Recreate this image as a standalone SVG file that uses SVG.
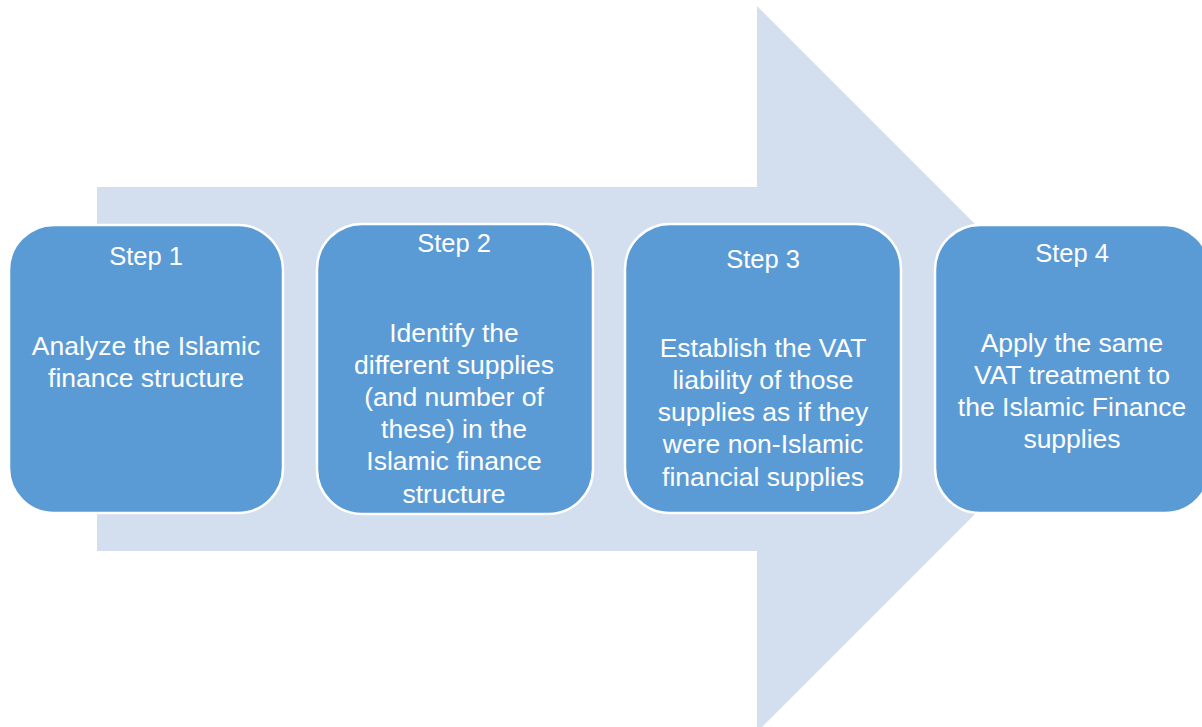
<svg xmlns="http://www.w3.org/2000/svg" width="1202" height="727" viewBox="0 0 1202 727">
<style>
.box{fill:#5B9BD5;stroke:#FFFFFF;stroke-width:2.5}
.t{font-family:"Liberation Sans",Arial,sans-serif;font-size:26.5px;fill:#FFFFFF;text-anchor:middle}
.h{font-size:25.5px}
</style>
<rect width="1202" height="727" fill="#FFFFFF"/>
<g id="arrow">
<path d="M97,187 L757,187 L757,6 L1120,369 L757,732 L757,551 L97,551 Z" fill="#D3DEEF"/>
</g>
<g id="connectors"></g>
<g id="step1">
<rect class="box" x="9" y="225" width="274" height="288" rx="45" ry="45"/>
<text class="t h" x="146" y="265">Step 1</text>
<text class="t" x="146" y="355">Analyze the Islamic</text>
<text class="t" x="146" y="387">finance structure</text>
</g>
<g id="step2">
<rect class="box" x="317" y="224" width="276" height="290" rx="45" ry="45"/>
<text class="t h" x="454" y="252">Step 2</text>
<text class="t" x="454" y="342">Identify the</text>
<text class="t" x="454" y="374">different supplies</text>
<text class="t" x="454" y="406">(and number of</text>
<text class="t" x="454" y="438">these) in the</text>
<text class="t" x="454" y="470">Islamic finance</text>
<text class="t" x="454" y="503">structure</text>
</g>
<g id="step3">
<rect class="box" x="625" y="224" width="276" height="289" rx="45" ry="45"/>
<text class="t h" x="763" y="268">Step 3</text>
<text class="t" x="763" y="357">Establish the VAT</text>
<text class="t" x="763" y="389">liability of those</text>
<text class="t" x="763" y="421">supplies as if they</text>
<text class="t" x="763" y="453">were non-Islamic</text>
<text class="t" x="763" y="486">financial supplies</text>
</g>
<g id="step4">
<rect class="box" x="935" y="225" width="275" height="288" rx="45" ry="45"/>
<text class="t h" x="1072" y="262">Step 4</text>
<text class="t" x="1072" y="352">Apply the same</text>
<text class="t" x="1072" y="384">VAT treatment to</text>
<text class="t" x="1072" y="416">the Islamic Finance</text>
<text class="t" x="1072" y="448">supplies</text>
</g>
</svg>
